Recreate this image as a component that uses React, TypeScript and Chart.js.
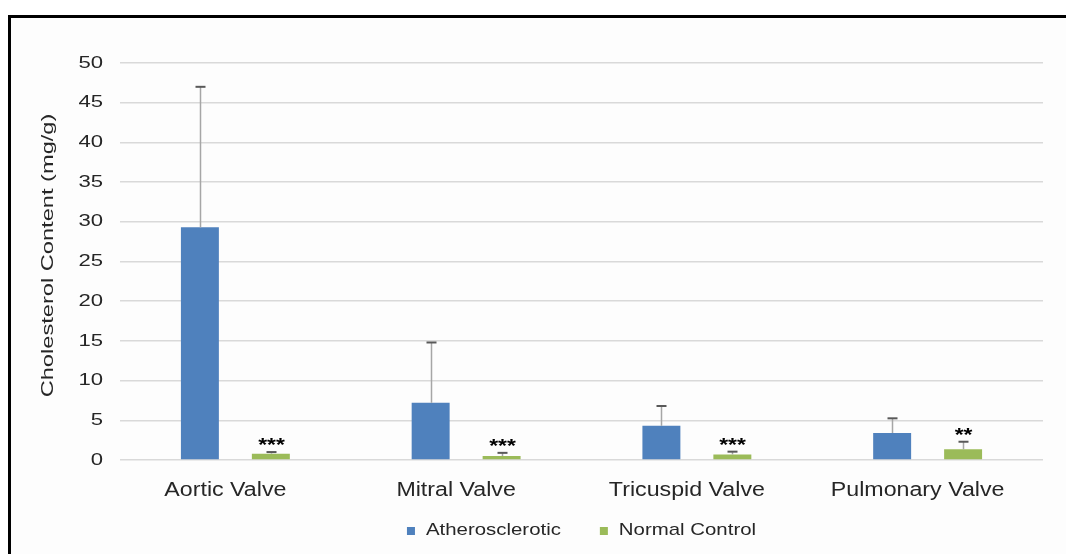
import React, { useEffect, useRef } from "react";
import { Chart, registerables } from "chart.js";

Chart.register(...registerables);

const categories = ["Aortic Valve", "Mitral Valve", "Tricuspid Valve", "Pulmonary Valve"];
const atheroValues = [29.3, 7.2, 4.3, 3.4];
const atheroErr = [17.7, 7.6, 2.5, 1.85];
const normalValues = [0.8, 0.5, 0.7, 1.35];
const normalErr = [0.2, 0.4, 0.35, 0.95];
const normalStars = ["***", "***", "***", "**"];
const yTicks = [0, 5, 10, 15, 20, 25, 30, 35, 40, 45, 50];
const yTitle = "Cholesterol Content (mg/g)";

const FONT = "'Liberation Sans', Arial, sans-serif";
const TEXT = "#262626";

function drawText(
  ctx: CanvasRenderingContext2D,
  text: string,
  x: number,
  y: number,
  font: string,
  sx: number,
  align: CanvasTextAlign,
  rotate = 0,
  color = TEXT
) {
  ctx.save();
  ctx.translate(x, y);
  if (rotate) ctx.rotate(rotate);
  ctx.scale(sx, 1);
  ctx.font = font;
  ctx.fillStyle = color;
  ctx.textAlign = align;
  ctx.textBaseline = "middle";
  ctx.fillText(text, 0, 0);
  ctx.restore();
}

const errorBarPlugin = {
  id: "errorBars",
  afterDatasetsDraw(chart: any) {
    const ctx = chart.ctx;
    const yScale = chart.scales.y;
    const errs = [atheroErr, normalErr];
    chart.data.datasets.forEach((ds: any, i: number) => {
      const meta = chart.getDatasetMeta(i);
      meta.data.forEach((el: any, j: number) => {
        const v = ds.data[j];
        const top = yScale.getPixelForValue(v + errs[i][j]);
        const x = Math.round(el.x) + 0.5;
        ctx.save();
        ctx.strokeStyle = "#a6a6a6";
        ctx.lineWidth = 1.5;
        ctx.beginPath();
        ctx.moveTo(x, el.y);
        ctx.lineTo(x, top);
        ctx.stroke();
        ctx.strokeStyle = "#595959";
        ctx.lineWidth = 2;
        ctx.beginPath();
        ctx.moveTo(x - 5, top);
        ctx.lineTo(x + 5, top);
        ctx.stroke();
        ctx.restore();
        if (i === 1) {
          drawText(ctx, normalStars[j], x, top - 6, `bold 19px ${FONT}`, 1.2, "center", 0, "#000");
        }
      });
    });
  },
};

const textPlugin = {
  id: "customText",
  afterDraw(chart: any) {
    const ctx = chart.ctx as CanvasRenderingContext2D;
    const yScale = chart.scales.y;
    const xScale = chart.scales.x;
    const area = chart.chartArea;
    // y tick labels
    yTicks.forEach((v) => {
      drawText(ctx, String(v), area.left - 17, yScale.getPixelForValue(v), `17px ${FONT}`, 1.3, "right");
    });
    // x category labels
    categories.forEach((c, i) => {
      drawText(ctx, c, xScale.getPixelForTick(i) - 10, area.bottom + 30, `20px ${FONT}`, 1.16, "center");
    });
    // y title
    drawText(ctx, yTitle, 48, (area.top + area.bottom) / 2 - 6, `17px ${FONT}`, 1.39, "center", -Math.PI / 2);
    // legend
    const legendFont = `17px ${FONT}`;
    const sx = 1.2;
    const box = 8;
    const boxGap = 11;
    const itemGap = 39;
    ctx.save();
    ctx.font = legendFont;
    const items = chart.data.datasets.map((ds: any) => ({
      label: ds.label as string,
      color: ds.backgroundColor as string,
      w: ctx.measureText(ds.label).width * sx,
    }));
    ctx.restore();
    const total =
      items.reduce((s: number, it: any) => s + box + boxGap + it.w, 0) + itemGap * (items.length - 1);
    let lx = (area.left + area.right) / 2 - total / 2;
    const ly = area.bottom + 70;
    items.forEach((it: any) => {
      ctx.save();
      ctx.fillStyle = it.color;
      ctx.fillRect(lx, ly - box / 2 + 1, box, box);
      ctx.restore();
      drawText(ctx, it.label, lx + box + boxGap, ly, legendFont, sx, "left");
      lx += box + boxGap + it.w + itemGap;
    });
  },
};

export default function App() {
  const canvasRef = useRef<HTMLCanvasElement | null>(null);

  useEffect(() => {
    if (!canvasRef.current) return;
    const chart = new Chart(canvasRef.current, {
      type: "bar",
      data: {
        labels: categories,
        datasets: [
          {
            label: "Atherosclerotic",
            data: atheroValues,
            backgroundColor: "#4F81BD",
            borderWidth: 0,
            categoryPercentage: 0.615,
            barPercentage: 0.535,
          },
          {
            label: "Normal Control",
            data: normalValues,
            backgroundColor: "#9BBB59",
            borderWidth: 0,
            categoryPercentage: 0.615,
            barPercentage: 0.535,
          },
        ],
      },
      plugins: [errorBarPlugin, textPlugin],
      options: {
        animation: false,
        responsive: false,
        maintainAspectRatio: false,
        layout: { padding: { left: 0, right: 23, top: 63, bottom: 94 } },
        plugins: {
          tooltip: { enabled: false },
          legend: { display: false },
        },
        scales: {
          x: {
            grid: { display: false, drawTicks: false },
            border: { display: false },
            ticks: { display: false },
            afterFit(scale: any) {
              scale.height = 0;
            },
          },
          y: {
            min: 0,
            max: 50,
            afterBuildTicks(scale: any) {
              scale.ticks = yTicks.map((v) => ({ value: v }));
            },
            grid: { color: "#d9d9d9", lineWidth: 1.5, drawTicks: false },
            border: { display: false },
            ticks: { display: false },
            afterFit(scale: any) {
              scale.width = 120;
            },
          },
        },
      },
    });
    return () => chart.destroy();
  }, []);

  return (
    <div
      style={{
        position: "fixed",
        left: 0,
        top: 0,
        width: 1066,
        height: 554,
        overflow: "hidden",
        background: "#ffffff",
      }}
    >
      <div
        style={{
          position: "absolute",
          left: 8,
          top: 15,
          width: 1200,
          height: 700,
          borderTop: "3px solid #000",
          borderLeft: "3px solid #000",
          background: "#fdfdfd",
        }}
      />
      <canvas
        ref={canvasRef}
        width={1066}
        height={554}
        style={{ position: "absolute", left: 0, top: 0, width: 1066, height: 554 }}
      />
    </div>
  );
}
